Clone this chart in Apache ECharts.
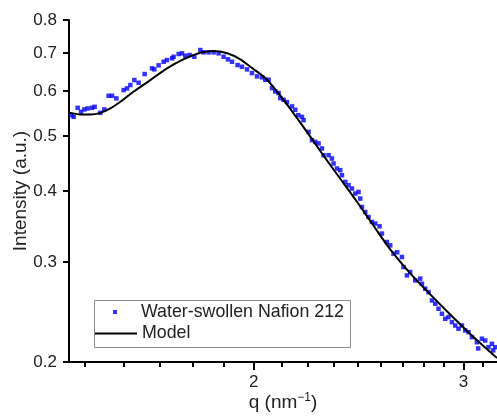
<!DOCTYPE html>
<html><head><meta charset="utf-8">
<script src="https://cdn.jsdelivr.net/npm/echarts@6/dist/echarts.min.js"></script>
<style>html,body{margin:0;padding:0;background:#fff}#c{width:497px;height:416px}</style>
</head><body><div id="c"></div>
<script>
const expQ = [1.4064,1.4127,1.4236,1.4330,1.4422,1.4514,1.4638,1.4711,1.4874,1.4989,
1.5114,1.5214,1.5341,1.5558,1.5661,1.5761,1.5883,1.6016,1.6202,1.6435,
1.6509,1.6646,1.6808,1.6918,1.7083,1.7135,1.7302,1.7416,1.7527,1.7673,
1.7834,1.8042,1.8157,1.8333,1.8511,1.8691,1.8872,1.9033,1.9180,1.9389,
1.9554,1.9744,1.9936,2.0129,2.0324,2.0454,2.0585,2.0721,2.0853,2.0986,
2.1055,2.1190,2.1329,2.1536,2.1674,2.1800,2.1956,2.2024,2.2238,2.2384,
2.2527,2.2671,2.2821,2.2891,2.3113,2.3265,2.3337,2.3491,2.3641,2.3719,
2.3871,2.4023,2.4181,2.4336,2.4491,2.4572,2.4653,2.4810,2.4969,2.5133,
2.5294,2.5505,2.5623,2.5872,2.6037,2.6204,2.6391,2.6632,2.6714,2.6890,
2.7062,2.7325,2.7590,2.7680,2.7857,2.8035,2.8220,2.8400,2.8582,2.8770,
2.8954,2.9139,2.9331,2.9519,2.9707,2.9903,3.0094,3.0286,3.0486,3.0782,
3.0859,3.1080,3.1279,3.1479,3.1686,3.1766,3.1888];
const expI = [0.5440,0.5403,0.5604,0.5514,0.5568,0.5590,0.5604,0.5627,0.5491,0.5568,
0.5884,0.5884,0.5822,0.6022,0.6063,0.6145,0.6271,0.6203,0.6426,0.6576,
0.6549,0.6657,0.6755,0.6801,0.6849,0.6893,0.6969,0.6989,0.6921,0.6941,
0.6893,0.7083,0.7017,0.7017,0.7017,0.6989,0.6893,0.6821,0.6755,0.6665,
0.6619,0.6549,0.6452,0.6366,0.6340,0.6279,0.6279,0.6071,0.5990,0.5949,
0.5829,0.5789,0.5735,0.5636,0.5559,0.5440,0.5403,0.5331,0.5084,0.4915,
0.4881,0.4850,0.4752,0.4625,0.4625,0.4563,0.4472,0.4382,0.4352,0.4264,
0.4150,0.4095,0.4040,0.3959,0.3985,0.3879,0.3749,0.3674,0.3600,0.3528,
0.3505,0.3467,0.3366,0.3253,0.3209,0.3103,0.3120,0.3061,0.2939,0.2841,
0.2880,0.2784,0.2804,0.2747,0.2692,0.2655,0.2567,0.2533,0.2482,0.2432,
0.2383,0.2399,0.2351,0.2319,0.2289,0.2319,0.2273,0.2257,0.2212,0.2167,
0.2113,0.2198,0.2182,0.2124,0.2153,0.2096,0.2124];
const modelQ = [1.401,1.4311,1.459,1.4874,1.5164,1.546,1.5853,1.6381,1.6918,1.7459,1.8042,1.85,1.9007,1.949,1.987,2.0454,2.1055,2.1674,2.2311,2.2891,2.3641,2.4416,2.5196,2.6037,2.7062,2.8128,2.9235,3.0386,3.1582,3.2];
const modelI = [0.5496,0.5456,0.5456,0.5491,0.5590,0.5742,0.5980,0.6271,0.6576,0.6821,0.7006,0.7055,0.6989,0.6821,0.6619,0.6322,0.5888,0.5429,0.4986,0.4616,0.4204,0.3829,0.3481,0.3158,0.2865,0.2631,0.2425,0.2241,0.2083,0.2033];
const yTicks = [0.2,0.3,0.4,0.5,0.6,0.7,0.8];
const yTickLabels = ['0.2','0.3','0.4','0.5','0.6','0.7','0.8'];
const xMajorTicks = [2,3];
const xMajorLabels = ['2','3'];
const xMinorTicks = [1.4444,1.5556,1.6667,1.7778,1.8889,2.1111,2.2222,2.3333,2.4444,2.5556,2.6667,2.7778,2.8889,3.1111];
const seriesNames = ['Water-swollen Nafion 212','Model'];
const X_MIN = 1.4, X_MAX = 3.2, Y_MIN = 0.2, Y_MAX = 0.8;

const FONT = 'Liberation Sans, Arial, sans-serif';
const TXT = '#222';
const chart = echarts.init(document.getElementById('c'), null, {renderer:'canvas'});
const expData = expQ.map((q,i)=>[q, expI[i]]);
const modelData = modelQ.map((q,i)=>[q, modelI[i]]);

chart.setOption({
  animation:false,
  backgroundColor:'#fff',
  textStyle:{fontFamily:FONT},
  grid:{left:69, right:0, top:20, bottom:54, outerBoundsMode:'none', containLabel:false},
  xAxis:[{
    type:'log', logBase:10, min:X_MIN, max:X_MAX, position:'bottom',
    name:'q (nm{sup|−1})', nameLocation:'middle', nameGap:30, nameMoveOverlap:false,
    nameTextStyle:{fontSize:19, color:TXT, fontFamily:FONT, lineHeight:22,
      rich:{sup:{fontSize:12, color:TXT, fontFamily:FONT, verticalAlign:'top', lineHeight:12}}},
    axisLine:{show:true, onZero:false, lineStyle:{color:'#000', width:2}},
    axisTick:{show:true, customValues:xMajorTicks, length:8, lineStyle:{color:'#000', width:2}},
    axisLabel:{show:true, customValues:xMajorTicks, margin:12, fontSize:17, color:TXT, fontFamily:FONT,
      formatter:(v)=>{const i=xMajorTicks.findIndex(t=>Math.abs(t-v)<1e-6); return i>=0?xMajorLabels[i]:'';}},
    splitLine:{show:false}, minorTick:{show:false}
  },{
    type:'log', logBase:10, min:X_MIN, max:X_MAX, position:'bottom', gridIndex:0,
    axisLine:{show:false, onZero:false},
    axisTick:{show:true, customValues:xMinorTicks, length:5, lineStyle:{color:'#000', width:2}},
    axisLabel:{show:false}, splitLine:{show:false}
  }],
  yAxis:{
    type:'log', logBase:10, min:Y_MIN, max:Y_MAX,
    name:'Intensity (a.u.)', nameLocation:'middle', nameGap:39, nameMoveOverlap:false,
    nameTextStyle:{fontSize:19, color:TXT, fontFamily:FONT},
    axisLine:{show:true, onZero:false, lineStyle:{color:'#000', width:2}},
    axisTick:{show:true, customValues:yTicks, length:6, lineStyle:{color:'#000', width:2}},
    axisLabel:{show:true, customValues:yTicks, margin:12, fontSize:17, color:TXT, fontFamily:FONT,
      formatter:(v)=>{const i=yTicks.findIndex(t=>Math.abs(t-v)<1e-6); return i>=0?yTickLabels[i]:'';}},
    splitLine:{show:false}
  },
  legend:[{
    data:[seriesNames[0]], left:113, top:303, padding:0, orient:'vertical',
    itemWidth:4, itemHeight:4, icon:'rect', selectedMode:false,
    formatter:'{t|{name}}',
    textStyle:{fontSize:17.8, color:TXT, fontFamily:FONT, rich:{t:{fontSize:17.8, color:TXT, fontFamily:FONT, padding:[0,0,0,19]}}}
  },{
    data:[seriesNames[1]], left:93, top:324.5, padding:0, orient:'vertical',
    itemWidth:43, itemHeight:14, selectedMode:false,
    itemStyle:{color:'rgba(0,0,0,0)', borderColor:'rgba(0,0,0,0)', borderWidth:0, opacity:0},
    lineStyle:{color:'#000', width:2, opacity:1},
    textStyle:{fontSize:17.8, color:TXT, fontFamily:FONT}
  }],
  series:[{
    name:seriesNames[0], type:'scatter', xAxisIndex:0, yAxisIndex:0,
    data:expData, symbol:'rect', symbolSize:4.5, itemStyle:{color:'#0000ff'}, z:2
  },{
    name:seriesNames[1], type:'line', xAxisIndex:0, yAxisIndex:0,
    data:modelData, smooth:0.3, showSymbol:false, symbol:'none',
    lineStyle:{color:'#000', width:2}, itemStyle:{color:'#000'}, z:3
  }]
});

// Tick marks placed through the library's own axis scales (backup for custom ticks)
const g = [{type:'rect', left:92, top:298, shape:{width:256, height:47},
  style:{fill:'none', stroke:'#8c8c8c', lineWidth:1}, z:10}];
const finder = {xAxisIndex:0, yAxisIndex:0};
yTicks.forEach(v=>{
  const p = chart.convertToPixel(finder, [X_MIN, v]);
  const y = Math.round(p[1]);
  g.push({type:'line', shape:{x1:p[0]-6, y1:y, x2:p[0], y2:y}, style:{stroke:'#000', lineWidth:2}, z:5, silent:true});
});
xMajorTicks.forEach(v=>{
  const p = chart.convertToPixel(finder, [v, Y_MIN]);
  const x = Math.round(p[0]);
  g.push({type:'line', shape:{x1:x, y1:p[1], x2:x, y2:p[1]+8}, style:{stroke:'#000', lineWidth:2}, z:5, silent:true});
});
chart.setOption({graphic:g});
</script></body></html>
